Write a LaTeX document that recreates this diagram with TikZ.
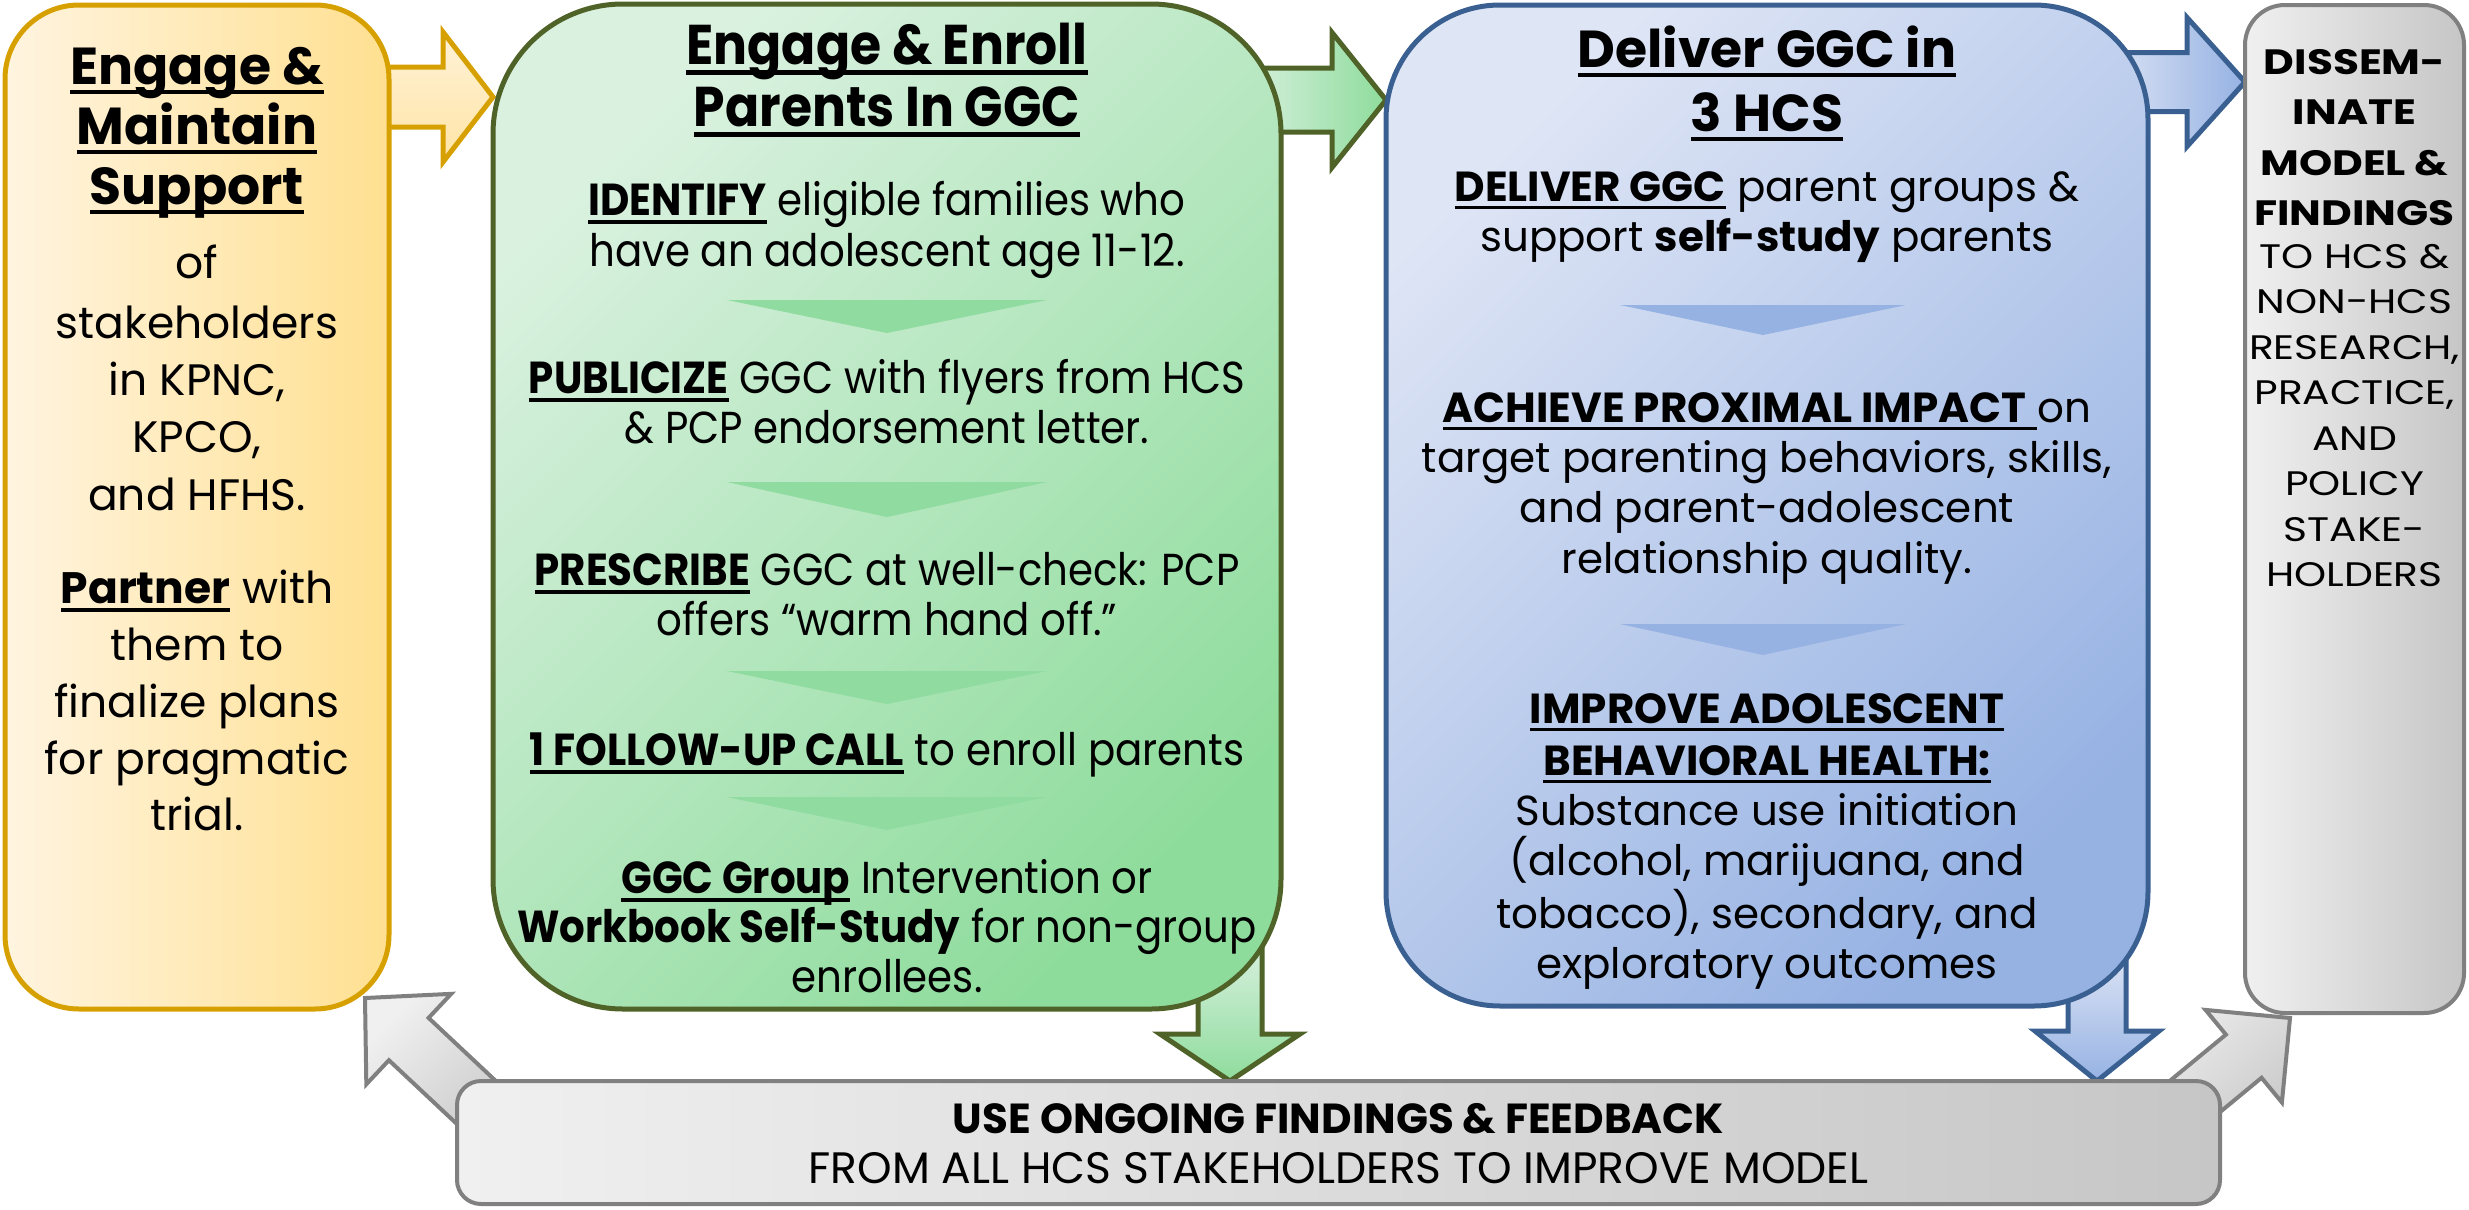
\documentclass[tikz,border=0pt]{standalone}
\usepackage{fontspec}
\setmainfont{Poppins}
\newfontfamily\narrowfont[FakeStretch=0.9]{Poppins}
\newfontfamily\widefont[FakeStretch=1.2]{Poppins}
\usetikzlibrary{calc}

\definecolor{ybord}{RGB}{214,160,0}
\definecolor{yfillL}{RGB}{255,244,224}
\definecolor{yfillR}{RGB}{255,224,145}
\definecolor{yarrT}{RGB}{255,242,215}
\definecolor{yarrB}{RGB}{255,228,165}
\definecolor{gbord}{RGB}{79,98,40}
\definecolor{gfillL}{RGB}{218,241,224}
\definecolor{gfillR}{RGB}{142,220,156}
\definecolor{gtri}{RGB}{143,219,160}
\definecolor{bbord}{RGB}{58,96,146}
\definecolor{bfillL}{RGB}{222,229,245}
\definecolor{bfillR}{RGB}{150,178,227}
\definecolor{btri}{RGB}{150,178,226}
\definecolor{kbord}{RGB}{128,128,128}
\definecolor{kfillL}{RGB}{240,240,240}
\definecolor{kfillR}{RGB}{198,198,198}

% underline that runs just below the baseline, through the descenders
\newsavebox\ulbox
\newcommand\ul[1]{\sbox\ulbox{#1}\rlap{\rule[-0.2em]{\wd\ulbox}{0.085em}}\usebox\ulbox}

% block arrow: style, tail, tip, shaft half width, head half width, head length
\newcommand\blockarrow[6]{%
  \coordinate (bh) at ($(#3)!#6!(#2)$);
  \path[#1] ($(#2)!#4!90:(#3)$) -- ($(bh)!#4!90:(#3)$) -- ($(bh)!#5!90:(#3)$) -- (#3)
    -- ($(bh)!#5!-90:(#3)$) -- ($(bh)!#4!-90:(#3)$) -- ($(#2)!#4!-90:(#3)$) -- cycle;
}

\tikzset{
  boxbase/.style={line width=2.5pt, inner sep=0pt, outer sep=0pt},
  ybox/.style={boxbase, draw=ybord, rounded corners=37pt, left color=yfillL, right color=yfillR},
  gbox/.style={boxbase, draw=gbord, rounded corners=65pt, left color=gfillL, right color=gfillR, shading angle=45},
  bbox/.style={boxbase, draw=bbord, rounded corners=57pt, left color=bfillL, right color=bfillR, shading angle=45},
  kbox/.style={boxbase, draw=kbord, line width=2pt, rounded corners=20pt, left color=kfillL, right color=kfillR},
  fbox/.style={boxbase, draw=kbord, line width=2pt, rounded corners=12pt, left color=kfillL, right color=kfillR},
  yarr/.style={draw=ybord, line width=2.5pt, top color=yarrT, bottom color=yarrB},
  garr/.style={draw=gbord, line width=2.5pt, left color=gfillL, right color=gfillR},
  barr/.style={draw=bbord, line width=2.5pt, left color=bfillL, right color=bfillR},
  gdarr/.style={draw=gbord, line width=2.5pt, top color=gfillL, bottom color=gfillR},
  bdarr/.style={draw=bbord, line width=2.5pt, top color=bfillL, bottom color=bfillR},
  karr/.style={draw=kbord, line width=2pt, left color=kfillL, right color=kfillR, shading angle=45},
  lineof/.style={anchor=base, inner sep=0pt, text=black},
  yhead/.style={lineof, font=\fontsize{26}{30}\selectfont\bfseries},
  ybody/.style={lineof, font=\fontsize{22}{26}\selectfont},
  ghead/.style={lineof, font=\narrowfont\fontsize{28}{32}\selectfont\bfseries},
  gbody/.style={lineof, font=\narrowfont\fontsize{22.4}{26}\selectfont},
  bhead/.style={lineof, font=\fontsize{26}{30}\selectfont\bfseries},
  bbody/.style={lineof, font=\fontsize{21}{25}\selectfont},
  khead/.style={lineof, font=\widefont\fontsize{17.6}{21}\selectfont\bfseries},
  kbody/.style={lineof, font=\widefont\fontsize{17}{21}\selectfont},
  fhead/.style={lineof, font=\fontsize{21}{25}\selectfont\bfseries},
  fbody/.style={lineof, font=\fontsize{22}{26}\selectfont},
}

\begin{document}
\begin{tikzpicture}[x=0.5pt,y=-0.5pt]
\useasboundingbox (0,0) rectangle (2469,1210);

% free ends of the block arrows
\coordinate (ya-tail) at (370,97);
\coordinate (ga-tail) at (1240,100);
\coordinate (ba-tail) at (2100,82);
\coordinate (gd-tail) at (1230,940);
\coordinate (bd-tail) at (2097,950);
\coordinate (kl-tail) at (511,1135);
\coordinate (kl-tip) at (365,998);
\coordinate (kr-tail) at (2130,1150);
\coordinate (kr-tip) at (2290,1018);

% box outlines placed first (invisible) so the arrows can refer to them
\path (197,507) node[minimum width=192pt, minimum height=502pt, inner sep=0pt, outer sep=0pt] (ypos) {};
\path (887,506.5) node[minimum width=394pt, minimum height=502.5pt, inner sep=0pt, outer sep=0pt] (gpos) {};
\path (1767,505.5) node[minimum width=381pt, minimum height=500.5pt, inner sep=0pt, outer sep=0pt] (bpos) {};
\path (2354.5,509) node[minimum width=109.5pt, minimum height=504pt, inner sep=0pt, outer sep=0pt] (kpos) {};
\path (1338.5,1142.5) node[minimum width=881.5pt, minimum height=61.5pt, inner sep=0pt, outer sep=0pt] (fpos) {};

% arrows behind the boxes
\blockarrow{yarr}{ya-tail}{gpos.west |- ya-tail}{15pt}{32.5pt}{25pt}
\blockarrow{garr}{ga-tail}{bpos.west |- ga-tail}{16pt}{33.75pt}{27pt}
\blockarrow{barr}{ba-tail}{kpos.west |- ba-tail}{14.75pt}{32.25pt}{29pt}
\blockarrow{gdarr}{gd-tail}{fpos.north -| gd-tail}{16pt}{35pt}{23.5pt}
\blockarrow{bdarr}{bd-tail}{fpos.north -| bd-tail}{14.5pt}{31pt}{25pt}
\blockarrow{karr}{kl-tail}{kl-tip}{14.5pt}{31pt}{30pt}
\blockarrow{karr}{kr-tail}{kr-tip}{14pt}{30pt}{30pt}

% the five boxes
\node[ybox, minimum width=192pt, minimum height=502pt] (ybox) at (ypos) {};
\node[gbox, minimum width=394pt, minimum height=502.5pt] (gbox) at (gpos) {};
\node[bbox, minimum width=381pt, minimum height=500.5pt] (bbox) at (bpos) {};
\node[kbox, minimum width=109.5pt, minimum height=504pt] (kbox) at (kpos) {};
\node[fbox, minimum width=881.5pt, minimum height=61.5pt] (fbox) at (fpos) {};

% step chevrons
\foreach \ta/\tb in {300/333, 482/517, 671/704, 797/830}
  \fill[gtri] (727,\ta) -- (1047,\ta) -- (887,\tb) -- cycle;
\foreach \ta/\tb in {305/335, 624/655}
  \fill[btri] (1620,\ta) -- (1906,\ta) -- (1763,\tb) -- cycle;

% Engage & Maintain Support
\foreach \yy/\lbl [count=\i] in {84/{Engage \&}, 144/Maintain, 204/Support}
  \node[yhead] (yh\i) at (197,\yy) {\ul{\lbl}};
\foreach \yy/\lbl [count=\i] in {278/of, 338/stakeholders, 395/{in KPNC,}, 452/{KPCO,},
    510/{and HFHS.}, 603/{\ul{\textbf{Partner}} with}, 660/{them to},
    717/{finalize plans}, 774/{for pragmatic}, 830/{trial.}}
  \node[ybody] (yb\i) at (197,\yy) {\lbl};

% Engage & Enroll Parents In GGC
\foreach \yy/\lbl [count=\i] in {64/{Engage \& Enroll}, 126/{Parents In GGC}}
  \node[ghead] (gh\i) at (887,\yy) {\ul{\lbl}};
\foreach \yy/\lbl [count=\i] in {
    215/{\ul{\textbf{IDENTIFY}} eligible families who},
    266/{have an adolescent age 11-12.},
    393/{\ul{\textbf{PUBLICIZE}} GGC with flyers from HCS},
    443/{\& PCP endorsement letter.},
    585/{\ul{\textbf{PRESCRIBE}} GGC at well-check: PCP},
    635/{offers “warm hand off.”},
    765/{\ul{\textbf{1 FOLLOW-UP CALL}} to enroll parents},
    893/{\ul{\textbf{GGC Group}} Intervention or},
    942/{\textbf{Workbook Self-Study} for non-group},
    992/{enrollees.}}
  \node[gbody] (gb\i) at (887,\yy) {\lbl};

% Deliver GGC in 3 HCS
\foreach \yy/\lbl [count=\i] in {67/{Deliver GGC in}, 131/{3 HCS}}
  \node[bhead] (bh\i) at (1767,\yy) {\ul{\lbl}};
\foreach \yy/\lbl [count=\i] in {
    201/{\ul{\textbf{DELIVER GGC}} parent groups \&},
    251/{support \textbf{self-study} parents},
    422/{\ul{\textbf{ACHIEVE PROXIMAL IMPACT}\ }on},
    472/{target parenting behaviors, skills,},
    522/{and parent-adolescent},
    573/{relationship quality.},
    723/{\ul{\textbf{IMPROVE ADOLESCENT}}},
    775/{\ul{\textbf{BEHAVIORAL HEALTH:}}},
    825/{Substance use initiation},
    875/{(alcohol, marijuana, and},
    928/{tobacco), secondary, and},
    978/{exploratory outcomes}}
  \node[bbody] (bb\i) at (1767,\yy) {\lbl};

% Disseminate
\foreach \yy/\lbl [count=\i] in {74/DISSEM-, 124.5/INATE, 175/{MODEL \&}, 225.5/FINDINGS}
  \node[khead] (kh\i) at (2354.5,\yy) {\lbl};
\foreach \yy/\lbl [count=\i] in {268/{TO HCS \&}, 313.5/NON-HCS, 359/{RESEARCH,},
    404.5/{PRACTICE,}, 450/AND, 495.5/POLICY, 541/STAKE-, 586.5/HOLDERS}
  \node[kbody] (kb\i) at (2354.5,\yy) {\lbl};

% feedback loop
\node[fhead] (fh) at (1338.5,1133) {USE ONGOING FINDINGS \& FEEDBACK};
\node[fbody] (fb) at (1338.5,1183) {FROM ALL HCS STAKEHOLDERS TO IMPROVE MODEL};
\end{tikzpicture}
\end{document}
